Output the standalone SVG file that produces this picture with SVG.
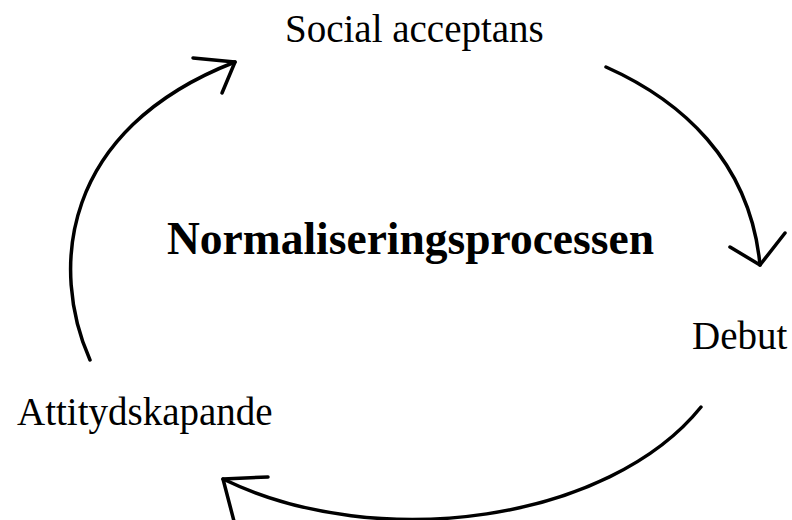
<svg xmlns="http://www.w3.org/2000/svg" width="792" height="520" viewBox="0 0 792 520">
<style>
.lbl{font-family:"Liberation Serif","Times New Roman",serif;font-size:39px;fill:#000}
.title{font-family:"Liberation Serif","Times New Roman",serif;font-size:45.5px;font-weight:bold;fill:#000}
.arc{fill:none;stroke:#000;stroke-width:3.5;stroke-linecap:round;stroke-linejoin:round}
</style>
<rect width="792" height="520" fill="#fff"/>
<g id="title"><text class="title" x="167" y="254">Normaliseringsprocessen</text></g>
<g id="social"><text class="lbl" x="285" y="42">Social acceptans</text></g>
<g id="debut"><text class="lbl" x="692" y="349">Debut</text></g>
<g id="attityd"><text class="lbl" x="17" y="425">Attitydskapande</text></g>
<g id="connectors">
<path class="arc" d="M606,67 C680,100 750,160 760,265"/>
<path class="arc" d="M730,247 L760,265 L785,233"/>
<path class="arc" d="M701,407 C610,520 380,555 223,479"/>
<path class="arc" d="M268,477 L223,479 L235,525"/>
<path class="arc" d="M90,360 C50,270 60,130 235,62"/>
<path class="arc" d="M193,58 L235,62 L222,93"/>
</g>
</svg>
